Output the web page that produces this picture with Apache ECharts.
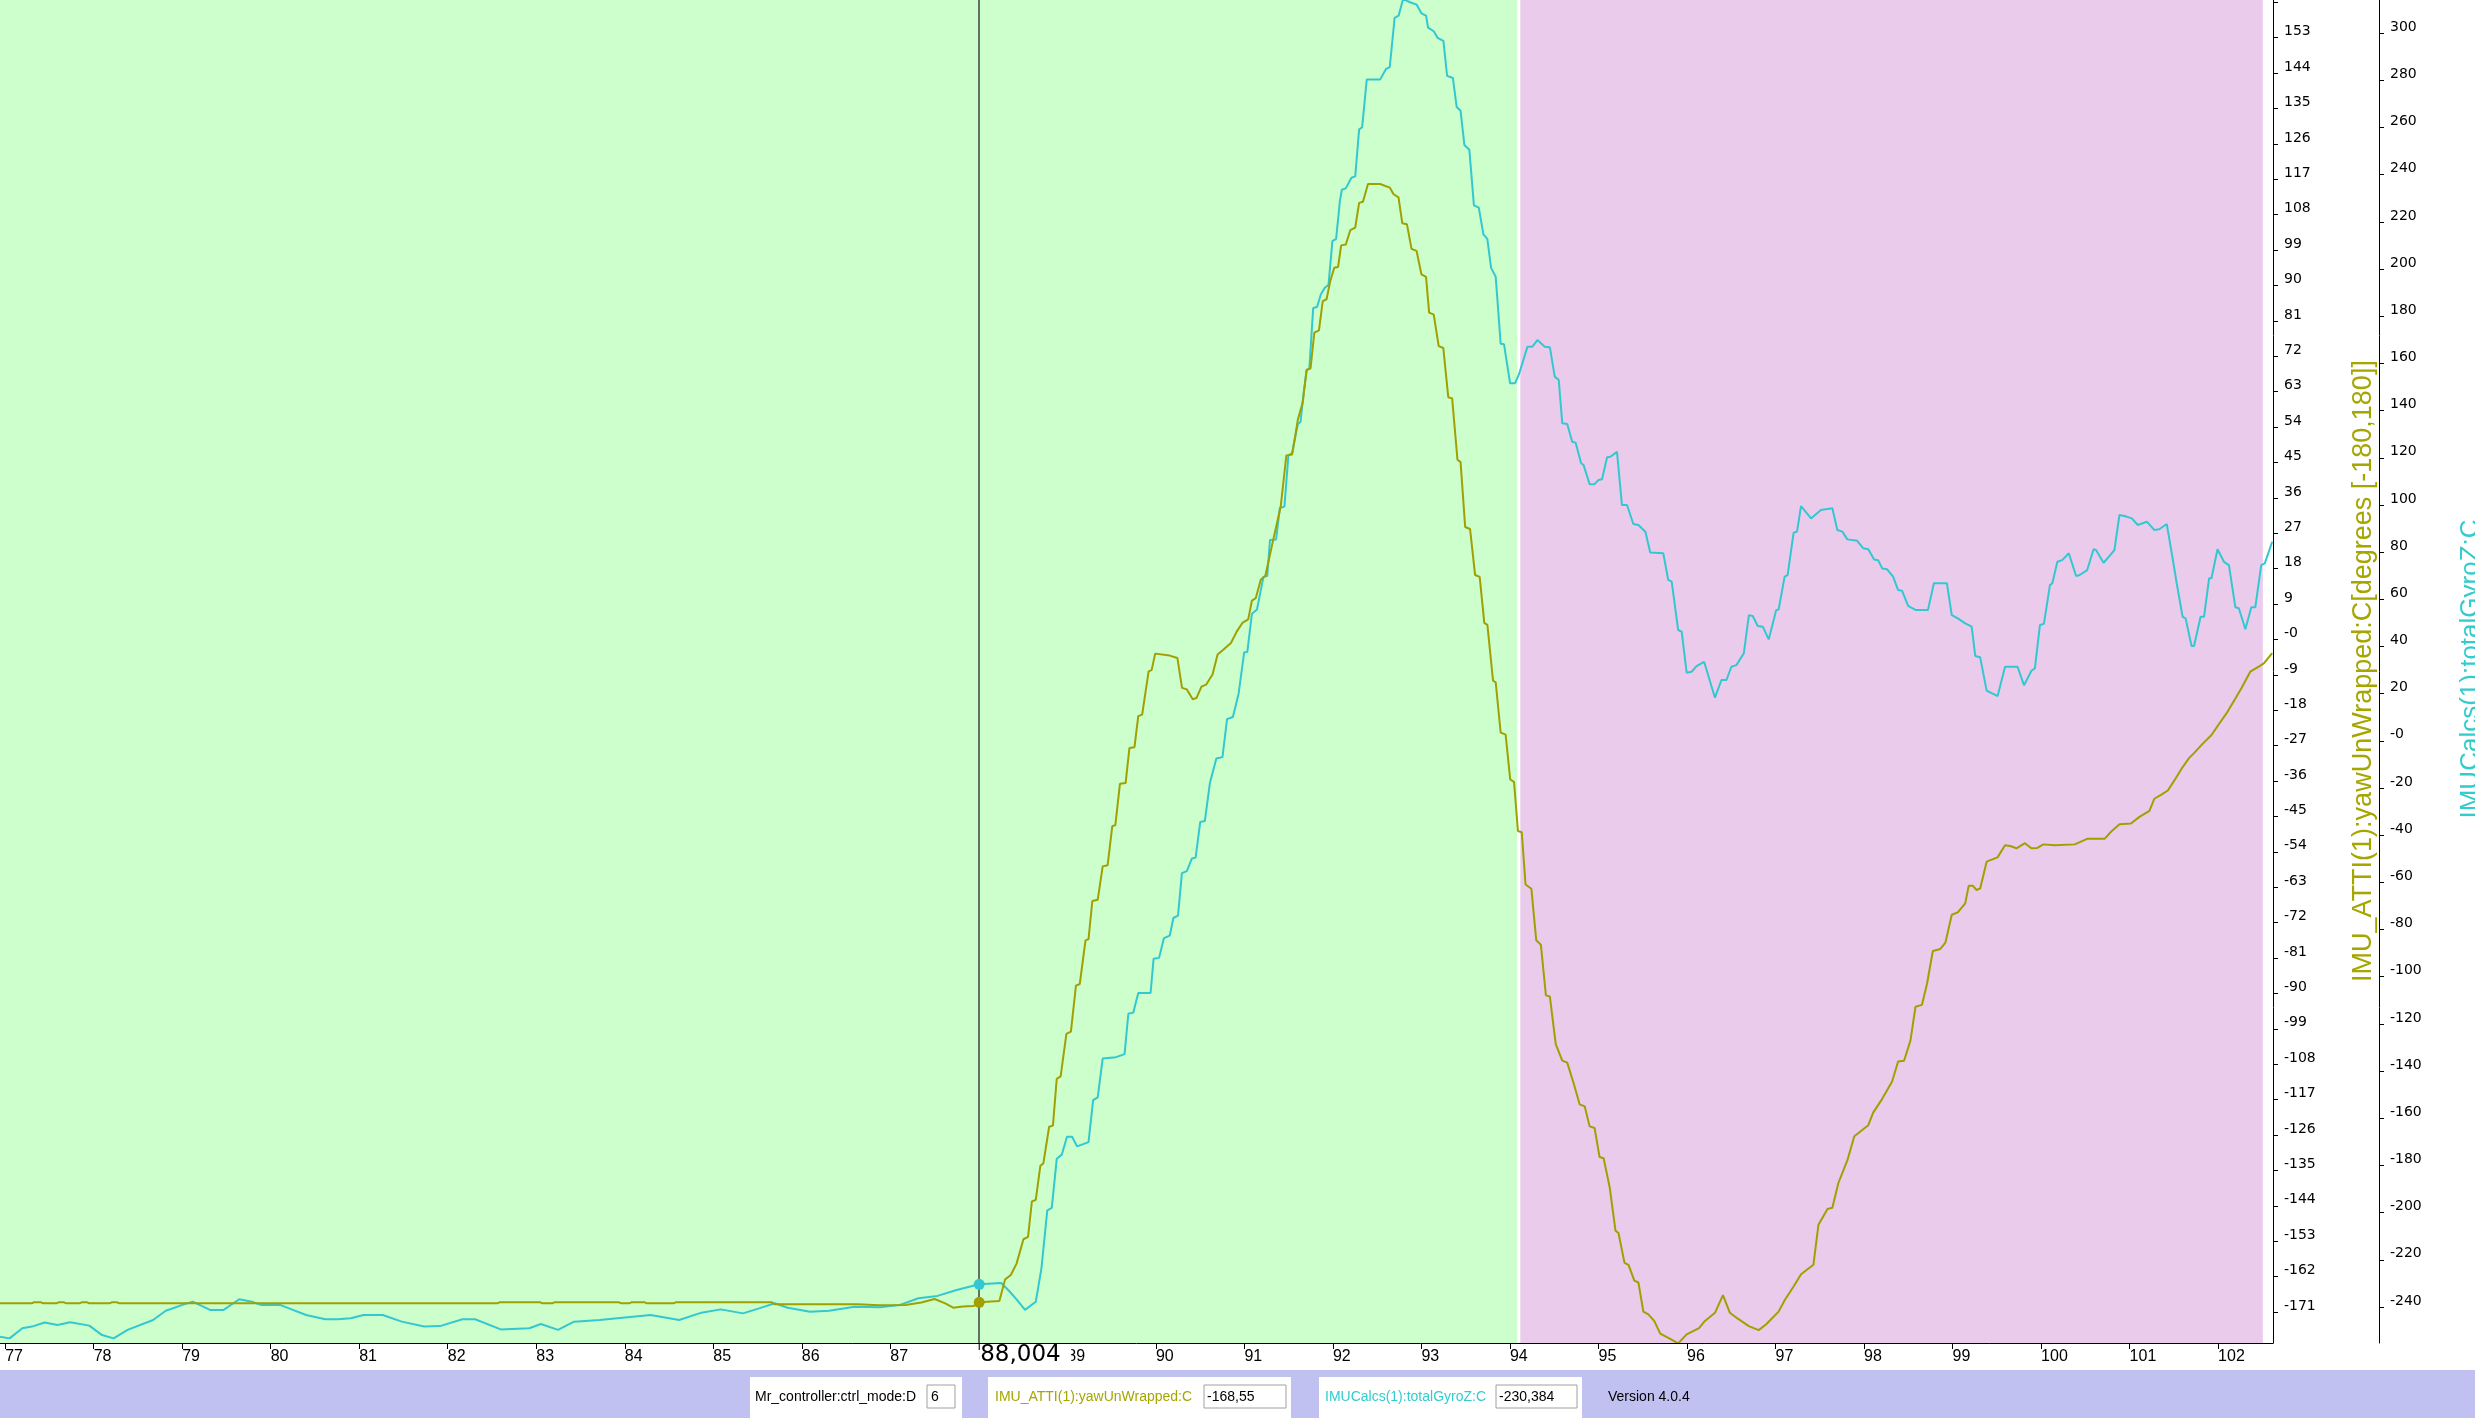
<!DOCTYPE html>
<html><head><meta charset="utf-8">
<script src="https://cdn.jsdelivr.net/npm/echarts/dist/echarts.min.js"></script>
<style>html,body{margin:0;padding:0;background:#fff;overflow:hidden}#c{width:2475px;height:1418px}</style>
</head><body><div id="c"></div>
<script>
// ---------- data ----------
const xTicks = [77,78,79,80,81,82,83,84,85,86,87,88,89,90,91,92,93,94,95,96,97,98,99,100,101,102];
const yawTicks = [-171,-162,-153,-144,-135,-126,-117,-108,-99,-90,-81,-72,-63,-54,-45,-36,-27,-18,-9,0,9,18,27,36,45,54,63,72,81,90,99,108,117,126,135,144,153,162];
const gyroTicks = [-240,-220,-200,-180,-160,-140,-120,-100,-80,-60,-40,-20,0,20,40,60,80,100,120,140,160,180,200,220,240,260,280,300];
const xRange = [76.942, 102.62];
const yawRange = [-178.88, 162.59];
const gyroRange = [-255.26, 314.05];
const greenZone = [76.942, 94.08];
const pinkZone = [94.117, 102.505];
const cursorX = 88.004;
const cursorYaw = -168.55;
const cursorGyro = -230.384;
const cursorText = '88,004';
const ctrlModeText = '6';
const yawText = '-168,55';
const gyroText = '-230,384';

const yawData = [
[76.942,-168.8],[77.30,-168.8],[77.33,-168.5],[77.40,-168.5],[77.43,-168.8],[77.58,-168.8],[77.61,-168.5],[77.66,-168.5],[77.69,-168.8],[77.84,-168.8],[77.87,-168.5],[77.92,-168.5],[77.95,-168.8],[78.18,-168.8],[78.21,-168.5],[78.26,-168.5],[78.29,-168.8],
[82.56,-168.8],[82.59,-168.5],[83.04,-168.5],[83.07,-168.8],[83.18,-168.8],[83.21,-168.5],[83.93,-168.5],[83.96,-168.8],[84.05,-168.8],[84.08,-168.5],[84.22,-168.5],[84.25,-168.8],[84.55,-168.8],[84.58,-168.5],[85.66,-168.5],[85.69,-169.0],[86.63,-169.0],[86.88,-169.3],[87.17,-169.2],[87.35,-168.6],[87.50,-167.7],[87.62,-168.8],[87.71,-169.9],[87.82,-169.6],[87.94,-169.5],[88.004,-168.55],[88.232,-168.2],
[88.297,-162.7],[88.361,-161.6],[88.426,-158.7],[88.504,-152.5],[88.556,-151.9],[88.599,-142.9],[88.643,-142.5],[88.695,-133.8],[88.729,-133.2],[88.794,-123.9],[88.837,-123.6],[88.880,-111.7],[88.924,-111.1],[88.989,-100.3],[89.040,-99.7],[89.097,-88.0],[89.140,-87.6],[89.205,-76.5],[89.239,-76.2],[89.282,-66.5],[89.343,-66.2],[89.399,-57.7],[89.455,-57.4],[89.507,-47.5],[89.542,-47.2],[89.594,-36.7],[89.658,-36.5],[89.701,-27.6],[89.758,-27.4],[89.801,-19.5],[89.845,-19.1],[89.918,-8.1],[89.952,-7.8],[89.992,-3.6],[90.156,-4.1],[90.243,-4.7],[90.295,-12.3],[90.350,-12.7],[90.416,-15.2],[90.458,-14.9],[90.515,-12.0],[90.567,-11.5],[90.640,-8.9],[90.697,-3.8],[90.761,-2.6],[90.848,-0.9],[90.913,2.0],[90.977,4.2],[91.043,5.1],[91.085,9.9],[91.128,10.5],[91.185,15.2],[91.237,16.2],[91.324,25.2],[91.410,33.8],[91.474,46.8],[91.539,47.0],[91.604,55.9],[91.660,60.4],[91.703,68.6],[91.747,68.9],[91.790,78.0],[91.842,78.6],[91.885,86.0],[91.928,86.5],[91.972,91.3],[92.015,94.5],[92.058,94.7],[92.093,100.2],[92.145,100.4],[92.197,104.1],[92.252,104.7],[92.296,111.0],[92.339,111.3],[92.396,115.8],[92.533,115.8],[92.642,114.9],[92.685,113.2],[92.741,112.4],[92.784,105.8],[92.836,105.6],[92.888,99.3],[92.945,98.8],[93.000,92.8],[93.052,92.2],[93.087,83.1],[93.139,82.6],[93.195,74.6],[93.247,74.1],[93.303,61.6],[93.347,61.3],[93.407,45.7],[93.442,45.1],[93.494,28.6],[93.549,28.1],[93.606,16.4],[93.658,15.9],[93.710,4.2],[93.745,3.7],[93.809,-10.5],[93.839,-10.9],[93.895,-23.7],[93.951,-24.2],[94.003,-35.6],[94.046,-36.2],[94.090,-48.7],[94.133,-49.0],[94.176,-62.3],[94.242,-63.4],[94.297,-76.5],[94.349,-77.6],[94.406,-90.5],[94.451,-90.8],[94.517,-102.9],[94.591,-107.1],[94.647,-107.6],[94.720,-112.9],[94.787,-118.2],[94.844,-118.7],[94.900,-123.8],[94.956,-124.2],[95.012,-131.6],[95.058,-131.9],[95.126,-139.2],[95.192,-150.3],[95.226,-150.9],[95.294,-158.5],[95.339,-159.0],[95.405,-163.0],[95.451,-163.5],[95.507,-170.9],[95.564,-171.6],[95.631,-173.3],[95.698,-176.5],[95.800,-177.7],[95.900,-179.0],[95.996,-176.7],[96.136,-175.1],[96.193,-173.5],[96.316,-171.2],[96.406,-166.7],[96.485,-171.2],[96.574,-172.7],[96.698,-174.6],[96.810,-175.6],[96.895,-174.1],[97.035,-170.9],[97.103,-168.0],[97.204,-164.5],[97.288,-161.4],[97.428,-159.0],[97.485,-148.8],[97.587,-144.8],[97.642,-144.5],[97.710,-138.2],[97.812,-132.4],[97.890,-126.3],[98.048,-123.5],[98.103,-120.3],[98.205,-116.8],[98.317,-112.4],[98.385,-107.3],[98.452,-107.1],[98.524,-102.0],[98.581,-93.4],[98.654,-92.9],[98.711,-87.6],[98.777,-79.2],[98.862,-78.7],[98.919,-77.1],[98.991,-70.0],[99.059,-69.4],[99.143,-67.1],[99.183,-62.6],[99.227,-62.6],[99.272,-63.7],[99.312,-63.3],[99.385,-56.5],[99.508,-55.4],[99.593,-52.3],[99.650,-52.5],[99.722,-53.1],[99.818,-51.8],[99.890,-53.1],[99.958,-53.0],[100.026,-52.1],[100.155,-52.3],[100.380,-52.1],[100.521,-50.7],[100.717,-50.7],[100.790,-48.9],[100.886,-47.0],[101.015,-46.8],[101.111,-45.1],[101.224,-43.6],[101.279,-40.5],[101.364,-39.4],[101.432,-38.4],[101.504,-35.9],[101.589,-32.8],[101.673,-30.1],[101.728,-28.9],[101.813,-26.8],[101.925,-24.3],[102.010,-21.5],[102.094,-18.8],[102.195,-15.0],[102.263,-12.4],[102.363,-8.2],[102.459,-6.9],[102.516,-6.1],[102.611,-3.5]
];

const gyroData = [
[76.942,-252.6],[77.05,-253.3],[77.194,-249.0],[77.303,-248.3],[77.446,-246.6],[77.591,-247.6],[77.735,-246.5],[77.951,-247.9],[78.095,-251.9],[78.225,-253.3],[78.384,-249.7],[78.671,-245.5],[78.815,-241.6],[78.996,-239.2],[79.118,-237.7],[79.32,-241.3],[79.464,-241.3],[79.645,-236.7],[79.788,-237.8],[79.897,-239.2],[80.112,-239.2],[80.257,-241.3],[80.4,-243.4],[80.617,-245.2],[80.761,-245.2],[80.905,-244.8],[81.049,-243.4],[81.266,-243.4],[81.481,-246.2],[81.733,-248.3],[81.913,-248.1],[82.166,-245.2],[82.31,-245.2],[82.598,-249.5],[82.922,-249.0],[83.052,-247.2],[83.246,-249.7],[83.427,-246.2],[83.715,-245.5],[84.003,-244.4],[84.291,-243.4],[84.615,-245.5],[84.867,-242.4],[85.084,-241.0],[85.336,-242.7],[85.517,-240.6],[85.696,-238.4],[85.84,-240.3],[86.093,-242.0],[86.308,-241.6],[86.597,-239.9],[86.884,-240.1],[87.101,-239.2],[87.317,-236.3],[87.533,-235.3],[87.749,-232.8],[88.004,-230.384],
[88.253,-229.8],[88.340,-233.1],[88.426,-236.8],[88.522,-241.2],[88.643,-237.8],[88.707,-223.6],[88.773,-199.0],[88.824,-198.0],[88.880,-177.2],[88.937,-175.4],[88.996,-167.8],[89.053,-167.8],[89.110,-171.9],[89.239,-170.1],[89.291,-152.3],[89.343,-151.1],[89.399,-134.7],[89.550,-134.1],[89.646,-132.8],[89.689,-115.7],[89.745,-115.2],[89.801,-106.9],[89.940,-106.9],[89.974,-92.4],[90.036,-92.0],[90.091,-83.6],[90.156,-82.6],[90.198,-75.1],[90.250,-74.1],[90.294,-56.1],[90.350,-55.2],[90.406,-49.9],[90.449,-49.5],[90.501,-34.4],[90.553,-34.0],[90.610,-17.9],[90.683,-7.5],[90.752,-6.9],[90.804,9.2],[90.870,10.1],[90.934,19.9],[90.998,37.6],[91.033,37.7],[91.085,53.9],[91.142,55.7],[91.215,69.5],[91.258,69.9],[91.289,85.1],[91.358,85.4],[91.400,98.7],[91.452,99.3],[91.497,121.0],[91.539,122.0],[91.604,134.3],[91.634,135.2],[91.669,147.5],[91.703,157.0],[91.734,157.9],[91.777,183.5],[91.821,183.9],[91.863,189.2],[91.906,192.0],[91.950,193.3],[91.994,211.8],[92.036,212.8],[92.079,228.9],[92.101,233.6],[92.145,234.2],[92.209,238.7],[92.252,239.3],[92.296,259.2],[92.330,260.1],[92.382,280.3],[92.533,280.3],[92.598,284.7],[92.642,285.6],[92.697,306.5],[92.742,307.4],[92.793,314.5],[92.871,313.1],[92.945,312.1],[93.000,308.4],[93.052,307.4],[93.075,302.3],[93.139,300.8],[93.182,298.0],[93.248,296.7],[93.290,281.9],[93.355,281.0],[93.398,268.7],[93.442,267.1],[93.485,252.6],[93.541,250.6],[93.593,227.0],[93.648,226.0],[93.700,214.7],[93.744,212.8],[93.787,200.5],[93.839,196.7],[93.895,168.3],[93.933,168.1],[94.001,151.6],[94.058,151.6],[94.103,155.5],[94.198,167.1],[94.253,167.1],[94.310,169.9],[94.394,167.1],[94.451,166.8],[94.506,154.4],[94.551,153.0],[94.591,134.6],[94.647,134.3],[94.703,126.8],[94.742,126.4],[94.804,117.7],[94.832,116.9],[94.900,108.8],[94.956,108.8],[95.001,110.6],[95.040,110.9],[95.097,120.2],[95.135,120.4],[95.209,122.5],[95.265,100.0],[95.322,100.0],[95.394,91.9],[95.451,91.5],[95.530,88.6],[95.585,79.8],[95.732,79.5],[95.788,68.2],[95.827,67.5],[95.900,47.0],[95.940,46.3],[95.996,28.9],[96.052,29.3],[96.108,31.7],[96.193,33.5],[96.316,18.3],[96.389,25.8],[96.446,25.8],[96.501,31.4],[96.558,32.1],[96.642,37.1],[96.699,53.3],[96.743,52.9],[96.799,48.7],[96.856,48.4],[96.923,43.0],[97.007,55.4],[97.035,55.7],[97.103,69.6],[97.137,70.3],[97.204,88.2],[97.243,88.7],[97.288,99.5],[97.401,94.3],[97.513,97.9],[97.642,98.6],[97.698,89.4],[97.755,88.7],[97.811,85.4],[97.923,84.8],[97.991,81.6],[98.048,81.2],[98.114,76.9],[98.159,76.6],[98.205,73.1],[98.261,72.7],[98.328,69.6],[98.385,63.9],[98.430,63.6],[98.498,57.2],[98.581,55.5],[98.722,55.5],[98.789,66.8],[98.936,66.8],[98.991,53.3],[99.059,51.9],[99.143,49.8],[99.216,48.4],[99.256,36.0],[99.312,35.4],[99.385,21.3],[99.441,20.2],[99.509,19.0],[99.593,31.4],[99.734,31.4],[99.807,23.6],[99.891,29.7],[99.930,30.7],[99.987,49.1],[100.032,49.6],[100.100,66.0],[100.127,66.8],[100.184,75.9],[100.239,76.6],[100.313,79.5],[100.396,69.9],[100.436,70.3],[100.521,72.4],[100.593,81.2],[100.621,80.9],[100.706,75.5],[100.774,78.4],[100.829,80.9],[100.885,95.7],[100.942,95.3],[101.025,94.3],[101.093,91.5],[101.195,92.9],[101.278,89.4],[101.335,89.7],[101.420,91.9],[101.486,77.4],[101.532,66.8],[101.599,52.6],[101.633,51.9],[101.700,40.2],[101.728,40.2],[101.802,52.6],[101.841,52.6],[101.898,68.9],[101.925,68.9],[101.993,81.2],[102.066,75.9],[102.122,74.5],[102.195,56.6],[102.234,56.2],[102.308,47.3],[102.375,56.6],[102.420,56.6],[102.487,74.5],[102.527,75.2],[102.611,84.4]
];

// ---------- styling ----------
const OLIVE = '#a0a000';
const CYAN = '#33c8d0';
const FONT = '"Liberation Sans", Arial, sans-serif';
const DV = '"DejaVu Sans", sans-serif';
const zeroFmt = v => (v === 0 ? '-0' : String(v));

const chart = echarts.init(document.getElementById('c'), null, {renderer: 'canvas'});

const yLabel = ticks => ({
  customValues: ticks, color: '#000', fontSize: 14, fontFamily: DV, margin: 11,
  verticalAlign: 'bottom', lineHeight: 12, formatter: zeroFmt
});

const option = {
  animation: false,
  backgroundColor: '#ffffff',
  grid: {left: 0, top: 0, right: 202, bottom: 75, containLabel: false, outerBoundsMode: 'none'},
  xAxis: {
    type: 'value', min: xRange[0], max: xRange[1], z: 4,
    axisLine: {show: true, onZero: false, lineStyle: {color: '#000', width: 1}},
    axisTick: {show: true, length: 6, customValues: xTicks, lineStyle: {color: '#000'}},
    axisLabel: {customValues: xTicks, color: '#000', fontSize: 16, fontFamily: FONT, margin: 6, align: 'left', formatter: v => String(v)},
    splitLine: {show: false}
  },
  yAxis: [
    {
      type: 'value', position: 'right', min: yawRange[0], max: yawRange[1], z: 4,
      axisLine: {show: true, onZero: false, lineStyle: {color: '#000', width: 1}},
      axisTick: {show: true, length: 5, customValues: yawTicks, lineStyle: {color: '#000'}},
      axisLabel: yLabel(yawTicks),
      splitLine: {show: false}
    },
    {
      type: 'value', position: 'right', offset: 106, min: gyroRange[0], max: gyroRange[1], z: 4,
      axisLine: {show: true, onZero: false, lineStyle: {color: '#000', width: 1}},
      axisTick: {show: true, length: 5, customValues: gyroTicks, lineStyle: {color: '#000'}},
      axisLabel: yLabel(gyroTicks),
      splitLine: {show: false}
    }
  ],
  series: [
    {
      type: 'line', name: 'zones', yAxisIndex: 0, data: [], z: 1, silent: true,
      markArea: {
        silent: true, z: 1,
        data: [
          [{xAxis: greenZone[0], itemStyle: {color: '#ccffcc'}}, {xAxis: greenZone[1]}],
          [{xAxis: pinkZone[0], itemStyle: {color: '#ebcbeb'}}, {xAxis: pinkZone[1]}]
        ]
      }
    },
    {
      type: 'line', name: 'IMUCalcs(1):totalGyroZ:C', yAxisIndex: 1, data: gyroData, z: 3,
      showSymbol: false, symbol: 'none', lineStyle: {color: CYAN, width: 2}, itemStyle: {color: CYAN}
    },
    {
      type: 'line', name: 'IMU_ATTI(1):yawUnWrapped:C', yAxisIndex: 0, data: yawData, z: 3,
      showSymbol: false, symbol: 'none', lineStyle: {color: OLIVE, width: 2}, itemStyle: {color: OLIVE},
      markLine: {
        silent: true, symbol: 'none', z: 5, label: {show: false},
        lineStyle: {color: '#404040', width: 1.5, type: 'solid'},
        data: [{xAxis: cursorX}]
      }
    },
    {type: 'scatter', yAxisIndex: 1, data: [[cursorX, cursorGyro]], symbolSize: 11, itemStyle: {color: CYAN, opacity: 1}, z: 6},
    {type: 'scatter', yAxisIndex: 0, data: [[cursorX, cursorYaw]], symbolSize: 11, itemStyle: {color: OLIVE, opacity: 1}, z: 6}
  ]
};
chart.setOption(option);

const cx = chart.convertToPixel({xAxisIndex: 0}, cursorX);
const plotBottom = chart.convertToPixel({yAxisIndex: 0}, yawRange[0]);

function boxText(x, y, text, color) {
  return {type: 'text', x: x, y: y, z: 101, style: {text: text, fill: color, font: '14px ' + FONT, align: 'left', verticalAlign: 'middle'}};
}
function inputBox(x, w) {
  return {type: 'rect', z: 100, shape: {x: x, y: 1385, width: w, height: 23}, style: {fill: '#fff', stroke: '#a0a0a0', lineWidth: 1}};
}

chart.setOption({
  graphic: [
    // cursor value box
    {type: 'rect', z: 100, shape: {x: cx, y: plotBottom + 1, width: 92, height: 25}, style: {fill: '#fff'}},
    {type: 'line', z: 101, shape: {x1: cx, y1: plotBottom, x2: cx, y2: plotBottom + 7}, style: {stroke: '#000', lineWidth: 1}},
    {type: 'text', z: 101, x: cx + 1, y: plotBottom + 12, style: {text: cursorText, fill: '#000', font: '23px ' + DV, align: 'left', verticalAlign: 'middle'}},
    // axis titles
    {type: 'text', z: 50, x: 2364, y: 671, rotation: Math.PI / 2, style: {text: 'IMU_ATTI(1):yawUnWrapped:C[degrees [-180,180]]', fill: '#a6a600', font: '27px ' + FONT, align: 'center', verticalAlign: 'middle'}},
    {type: 'text', z: 50, x: 2471, y: 669, rotation: Math.PI / 2, style: {text: 'IMUCalcs(1):totalGyroZ:C', fill: '#33cccc', font: '26px ' + FONT, align: 'center', verticalAlign: 'middle'}},
    // status bar
    {type: 'rect', z: 99, shape: {x: 0, y: 1370, width: 2475, height: 48}, style: {fill: '#c1c1f1'}},
    {type: 'rect', z: 100, shape: {x: 750, y: 1377, width: 212, height: 41}, style: {fill: '#fff'}},
    {type: 'rect', z: 100, shape: {x: 988, y: 1377, width: 303, height: 41}, style: {fill: '#fff'}},
    {type: 'rect', z: 100, shape: {x: 1319, y: 1377, width: 263, height: 41}, style: {fill: '#fff'}},
    inputBox(927, 28), inputBox(1204, 82), inputBox(1496, 81),
    boxText(755, 1397, 'Mr_controller:ctrl_mode:D', '#000'),
    boxText(931, 1397, ctrlModeText, '#000'),
    boxText(995, 1397, 'IMU_ATTI(1):yawUnWrapped:C', '#a6a600'),
    boxText(1207, 1397, yawText, '#000'),
    boxText(1325, 1397, 'IMUCalcs(1):totalGyroZ:C', '#33cccc'),
    boxText(1499, 1397, gyroText, '#000'),
    boxText(1608, 1397, 'Version 4.0.4', '#000')
  ]
});
</script>
</body></html>
